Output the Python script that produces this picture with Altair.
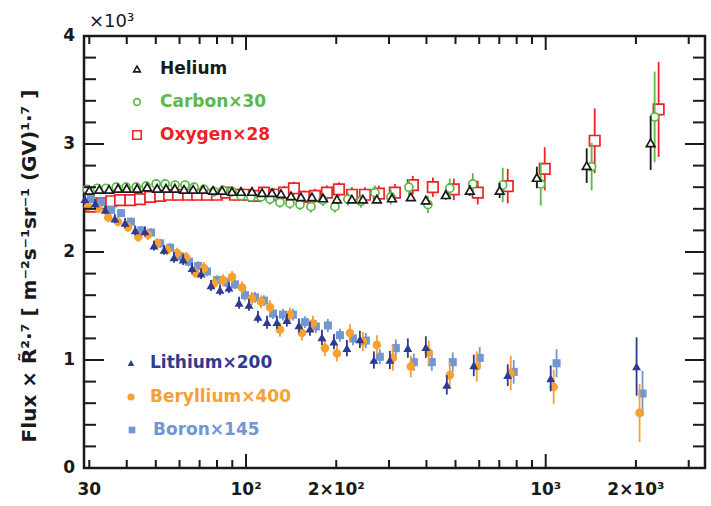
import altair as alt
import pandas as pd

# ---------------- data (flux x R^2.7, in units of 10^3) ----------------
He_R = [30.0, 32.4, 34.9, 37.4, 40.0, 43.3, 46.8, 50.5, 54.1, 57.9, 62.1, 66.6, 71.9, 77.6, 83.2, 89.8,
        96.2, 104.7, 113.1, 122.1, 130.8, 141.3, 152.5, 166.0, 180.7, 201.1, 225.6, 245.5, 273.3, 306.9,
        354.8, 398, 464, 558, 702, 934, 1370, 2239]
He_v = [2.57, 2.58, 2.58, 2.59, 2.59, 2.59, 2.60, 2.59, 2.59, 2.59, 2.58, 2.58, 2.58, 2.57, 2.57, 2.56,
        2.56, 2.56, 2.55, 2.55, 2.54, 2.52, 2.51, 2.51, 2.50, 2.49, 2.49, 2.49, 2.49, 2.50,
        2.51, 2.48, 2.53, 2.57, 2.57, 2.69, 2.80, 3.01]
He_e = [0.015, 0.015, 0.015, 0.015, 0.015, 0.015, 0.015, 0.015, 0.015, 0.015, 0.015, 0.015, 0.015, 0.015,
        0.015, 0.015, 0.015, 0.015, 0.02, 0.02, 0.02, 0.02, 0.02, 0.02, 0.025, 0.025, 0.025, 0.03, 0.03,
        0.03, 0.035, 0.04, 0.045, 0.05, 0.07, 0.1, 0.16, 0.25]

C_R = [29.5, 31.9, 34.1, 36.9, 39.8, 43.0, 46.4, 50.1, 53.7, 58.0, 62.6, 67.1, 72.4, 78.2, 83.8, 89.8,
       96.2, 103.9, 112.2, 120.2, 129.8, 140.1, 151.4, 164.7, 180.6, 198.0, 218.8, 241.7, 269.2, 304.3,
       349.4, 404.4, 478.6, 571.0, 718.7, 962.4, 1423, 2309]
C_v = [2.58, 2.59, 2.59, 2.60, 2.60, 2.60, 2.61, 2.63, 2.63, 2.62, 2.62, 2.60, 2.58, 2.56, 2.57, 2.56,
       2.52, 2.51, 2.51, 2.49, 2.46, 2.45, 2.44, 2.42, 2.48, 2.42, 2.49, 2.47, 2.55, 2.51,
       2.60, 2.44, 2.59, 2.63, 2.62, 2.63, 2.79, 3.25]
C_e = [0.04, 0.04, 0.04, 0.04, 0.04, 0.04, 0.04, 0.04, 0.04, 0.04, 0.04, 0.04, 0.04, 0.045, 0.045, 0.045,
       0.045, 0.045, 0.05, 0.05, 0.05, 0.05, 0.05, 0.055, 0.055, 0.055, 0.06, 0.06, 0.065, 0.07,
       0.075, 0.08, 0.09, 0.1, 0.16, 0.2, 0.22, 0.42]

O_R = [30.4, 32.9, 35.5, 38.0, 41.1, 44.3, 47.9, 51.7, 55.4, 59.3, 64.1, 68.7, 74.1, 80.0, 85.8, 91.9,
       98.5, 106.3, 114.8, 124.0, 133.9, 144.5, 156.1, 169.8, 186.2, 204.2, 225.6, 249.3, 277.5, 313.8,
       360.3, 420.1, 493.5, 593.4, 747.0, 992.3, 1457, 2381]
O_v = [2.42, 2.45, 2.47, 2.48, 2.48, 2.49, 2.51, 2.52, 2.53, 2.53, 2.53, 2.53, 2.53, 2.53, 2.55, 2.53,
       2.53, 2.52, 2.55, 2.53, 2.55, 2.59, 2.51, 2.52, 2.55, 2.58, 2.53, 2.53, 2.54, 2.55,
       2.62, 2.60, 2.58, 2.55, 2.61, 2.77, 3.03, 3.32]
O_e = [0.05, 0.05, 0.05, 0.05, 0.05, 0.05, 0.05, 0.05, 0.05, 0.05, 0.05, 0.05, 0.05, 0.05, 0.05, 0.055,
       0.055, 0.055, 0.055, 0.06, 0.06, 0.06, 0.06, 0.065, 0.065, 0.065, 0.07, 0.07, 0.075, 0.08,
       0.085, 0.09, 0.1, 0.11, 0.16, 0.2, 0.3, 0.44]

Li_R = [29.0, 31.4, 33.9, 36.5, 39.5, 42.7, 46.0, 49.3, 53.3, 57.5, 61.7, 66.1, 70.8, 76.4, 81.9, 87.7,
        94.8, 102.3, 109.6, 117.5, 126.8, 136.9, 150.2, 163.4, 179.2, 196.5, 217.1, 239.9, 267.1, 302.0,
        346.7, 398.1, 467.7, 575.4, 747.0, 1039, 2010]
Li_v = [2.49, 2.45, 2.39, 2.31, 2.27, 2.20, 2.19, 2.06, 2.02, 1.95, 1.93, 1.85, 1.80, 1.69, 1.65, 1.67,
        1.53, 1.51, 1.40, 1.35, 1.35, 1.37, 1.32, 1.29, 1.21, 1.17, 1.11, 1.19, 1.00, 1.00,
        1.11, 1.12, 0.77, 0.95, 0.86, 0.83, 0.94]
Li_e = [0.04, 0.04, 0.04, 0.04, 0.045, 0.045, 0.045, 0.045, 0.045, 0.05, 0.05, 0.05, 0.05, 0.05, 0.05,
        0.05, 0.055, 0.055, 0.055, 0.06, 0.06, 0.06, 0.065, 0.065, 0.07, 0.07, 0.075, 0.08, 0.08, 0.085,
        0.09, 0.1, 0.09, 0.1, 0.1, 0.12, 0.27]

Be_R = [29.7, 32.1, 34.7, 37.4, 40.4, 43.7, 47.1, 50.5, 54.5, 58.9, 63.1, 67.6, 72.4, 78.2, 83.8, 89.8,
        97.0, 104.7, 112.2, 120.2, 129.8, 140.1, 153.7, 167.2, 183.4, 201.1, 222.2, 245.5, 273.3, 309.0,
        354.8, 407.4, 478.6, 588.8, 764.5, 1063, 2057]
Be_v = [2.42, 2.40, 2.32, 2.28, 2.23, 2.14, 2.16, 2.08, 2.02, 1.99, 1.95, 1.81, 1.85, 1.71, 1.74, 1.77,
        1.67, 1.57, 1.54, 1.49, 1.28, 1.42, 1.25, 1.34, 1.11, 1.06, 1.25, 1.17, 1.14, 1.02,
        0.94, 1.07, 0.86, 0.94, 0.88, 0.75, 0.51]
Be_e = [0.04, 0.04, 0.045, 0.045, 0.045, 0.045, 0.05, 0.05, 0.05, 0.05, 0.05, 0.05, 0.055, 0.055, 0.055,
        0.055, 0.06, 0.06, 0.06, 0.065, 0.065, 0.065, 0.07, 0.07, 0.075, 0.075, 0.08, 0.09, 0.09, 0.12,
        0.1, 0.11, 0.12, 0.14, 0.16, 0.16, 0.27]

B_R = [30.4, 32.8, 35.5, 38.3, 41.3, 44.7, 48.2, 51.7, 55.8, 60.3, 64.5, 69.2, 74.1, 80.0, 85.7, 91.9,
       99.2, 107.1, 114.8, 123.0, 132.8, 143.3, 157.2, 171.0, 187.6, 205.7, 227.3, 251.1, 279.6, 316.1,
       363.0, 416.8, 489.6, 602.3, 782.1, 1087, 2104]
B_v = [2.49, 2.46, 2.39, 2.36, 2.28, 2.20, 2.18, 2.08, 2.04, 1.96, 1.91, 1.87, 1.82, 1.74, 1.72, 1.70,
       1.60, 1.58, 1.55, 1.43, 1.42, 1.42, 1.35, 1.31, 1.32, 1.23, 1.20, 1.18, 1.03, 1.11,
       0.98, 0.98, 0.98, 1.02, 0.89, 0.97, 0.69]
B_e = [0.035, 0.035, 0.035, 0.035, 0.04, 0.04, 0.04, 0.04, 0.04, 0.045, 0.045, 0.045, 0.045, 0.045, 0.045,
       0.045, 0.05, 0.05, 0.05, 0.05, 0.055, 0.055, 0.055, 0.06, 0.06, 0.06, 0.065, 0.07, 0.07, 0.08,
       0.08, 0.08, 0.09, 0.1, 0.11, 0.13, 0.21]

# legend texts
top_labels = ["Helium", "Carbon\u00d730", "Oxygen\u00d728"]
bot_labels = ["Lithium\u00d7200", "Beryllium\u00d7400", "Boron\u00d7145"]

# axis ticks / labels
x_label_vals = [30, 100, 200, 1000, 2000]
x_label_txt = ["30", "10\u00b2", "2\u00d710\u00b2", "10\u00b3", "2\u00d710\u00b3"]
x_minor = [30, 40, 50, 60, 70, 80, 90, 200, 300, 400, 500, 600, 700, 800, 900, 2000, 3000]
x_major = [100, 1000]
y_label_vals = [0, 1, 2, 3, 4]
y_label_txt = ["0", "1", "2", "3", "4"]
y_minor = [0.2, 0.4, 0.6, 0.8, 1.2, 1.4, 1.6, 1.8, 2.2, 2.4, 2.6, 2.8, 3.2, 3.4, 3.6, 3.8]
y_major = [1, 2, 3]
y_title = "Flux \u00d7 R\u0303\u00b2\u00b7\u2077 [ m\u207b\u00b2s\u207b\u00b9sr\u207b\u00b9 (GV)\u00b9\u00b7\u2077 ]"
exp_txt = "\u00d710\u00b3"

# ---------------- styling ----------------
W, H = 621, 432
FONT = "DejaVu Sans"
INK = "#1a1a1a"
COL = {"He": "#1a1a1a", "C": "#5cb848", "O": "#ec2227",
       "Li": "#2e3b90", "Be": "#f6a133", "B": "#7196d4"}

xs = alt.Scale(type="log", domain=[28.8, 3400], nice=False)
ys = alt.Scale(domain=[0, 4], nice=False, zero=False)


def table(R, v, e):
    return pd.DataFrame({"R": R, "v": v,
                         "lo": [a - b for a, b in zip(v, e)],
                         "hi": [a + b for a, b in zip(v, e)]})


def series(R, v, e, color, shape, size, open_marker):
    base = alt.Chart(table(R, v, e))
    bars = base.mark_rule(color=color, strokeWidth=1.8).encode(
        x=alt.X("R:Q", scale=xs, axis=None),
        y=alt.Y("lo:Q", scale=ys, axis=None),
        y2="hi:Q")
    if open_marker:
        pts = base.mark_point(shape=shape, size=size, filled=True, fill="white",
                              stroke=color, strokeWidth=1.7, opacity=1)
    else:
        pts = base.mark_point(shape=shape, size=size, filled=True, color=color, opacity=1)
    pts = pts.encode(x=alt.X("R:Q", scale=xs, axis=None), y=alt.Y("v:Q", scale=ys, axis=None))
    return bars + pts


def xticks(vals, L):
    d = alt.Chart(pd.DataFrame({"t": vals}))
    xe = alt.X("t:Q", scale=xs, axis=None)
    b = d.mark_rule(color=INK, strokeWidth=2).encode(x=xe, y=alt.value(H), y2=alt.value(H - L))
    t = d.mark_rule(color=INK, strokeWidth=2).encode(x=xe, y=alt.value(0), y2=alt.value(L))
    return b + t


def yticks(vals, L):
    d = alt.Chart(pd.DataFrame({"t": vals}))
    ye = alt.Y("t:Q", scale=ys, axis=None)
    lft = d.mark_rule(color=INK, strokeWidth=2).encode(y=ye, x=alt.value(0), x2=alt.value(L))
    rgt = d.mark_rule(color=INK, strokeWidth=2).encode(y=ye, x=alt.value(W), x2=alt.value(W - L))
    return lft + rgt


x_labels = alt.Chart(pd.DataFrame({"t": x_label_vals, "lab": x_label_txt})).mark_text(
    align="center", baseline="top", font=FONT, fontWeight="bold", fontSize=17, color=INK
).encode(x=alt.X("t:Q", scale=xs, axis=None), y=alt.value(H + 14), text="lab:N")

y_labels = alt.Chart(pd.DataFrame({"t": y_label_vals, "lab": y_label_txt})).mark_text(
    align="right", baseline="middle", font=FONT, fontWeight="bold", fontSize=17, color=INK
).encode(y=alt.Y("t:Q", scale=ys, axis=None), x=alt.value(-9), text="lab:N")

y_title_mark = alt.Chart(pd.DataFrame({"lab": [y_title]})).mark_text(
    align="center", baseline="alphabetic", angle=270, font=FONT, fontWeight="bold", fontSize=20, color=INK
).encode(x=alt.value(-48), y=alt.value(230), text="lab:N")

exp_label = alt.Chart(pd.DataFrame({"lab": [exp_txt]})).mark_text(
    align="left", baseline="alphabetic", font=FONT, fontSize=18, color=INK
).encode(x=alt.value(5), y=alt.value(-9), text="lab:N")


def legend_row(label, color, shape, size, open_marker, sx, tx, y):
    d = alt.Chart(pd.DataFrame({"label": [label]}))
    if open_marker:
        sym = d.mark_point(shape=shape, size=size, filled=True, fill="white", stroke=color,
                           strokeWidth=1.6, opacity=1)
    else:
        sym = d.mark_point(shape=shape, size=size, filled=True, color=color, opacity=1)
    sym = sym.encode(x=alt.value(sx), y=alt.value(y))
    txt = d.mark_text(align="left", baseline="middle", font=FONT, fontWeight="bold", fontSize=17,
                      color=color).encode(x=alt.value(tx), y=alt.value(y), text="label:N")
    return sym + txt


layers = [
    series(O_R, O_v, O_e, COL["O"], "square", 110, True),
    series(C_R, C_v, C_e, COL["C"], "circle", 65, True),
    series(He_R, He_v, He_e, COL["He"], "triangle-up", 75, True),
    series(B_R, B_v, B_e, COL["B"], "square", 65, False),
    series(Be_R, Be_v, Be_e, COL["Be"], "circle", 75, False),
    series(Li_R, Li_v, Li_e, COL["Li"], "triangle-up", 80, False),
    xticks(x_minor, 8), xticks(x_major, 14),
    yticks(y_minor, 12), yticks(y_major, 20),
    x_labels, y_labels, y_title_mark, exp_label,
    legend_row(top_labels[0], COL["He"], "triangle-up", 45, True, 53, 76, 33),
    legend_row(top_labels[1], COL["C"], "circle", 45, True, 53, 76, 66),
    legend_row(top_labels[2], COL["O"], "square", 70, True, 53, 76, 99),
    legend_row(bot_labels[0], COL["Li"], "triangle-up", 45, False, 47, 66, 327),
    legend_row(bot_labels[1], COL["Be"], "circle", 50, False, 47, 66, 361),
    legend_row(bot_labels[2], COL["B"], "square", 45, False, 48, 69, 394),
]

chart = alt.layer(*layers).properties(
    width=W, height=H,
    autosize=alt.AutoSizeParams(type="none"),
    padding={"left": 84, "top": 36, "right": 6, "bottom": 38},
    background="white",
).configure_view(stroke=INK, strokeWidth=2.5)

chart.save("out.html", embed_options={"renderer": "svg", "actions": False})
